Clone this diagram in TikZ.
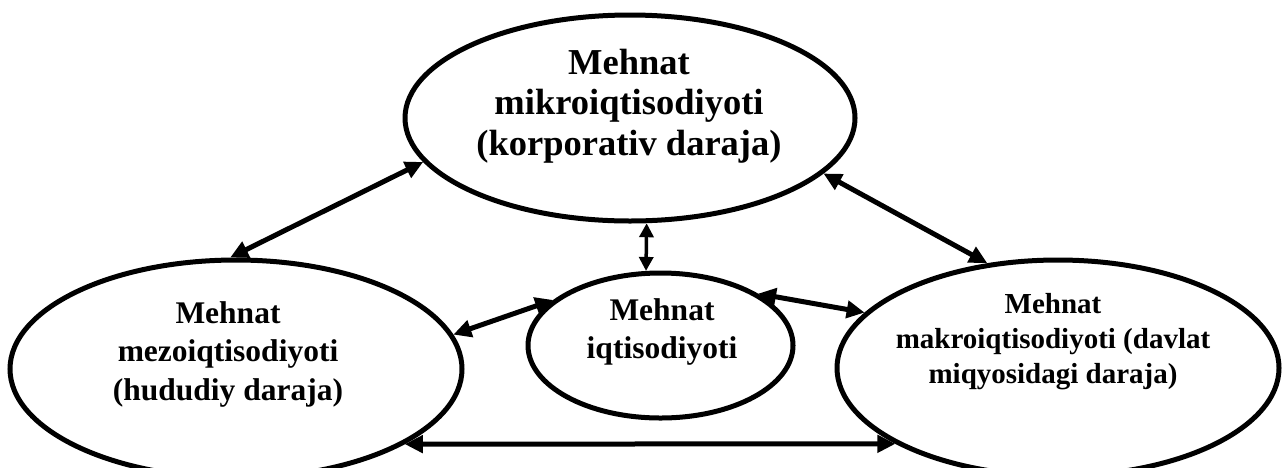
\documentclass[tikz,border=0pt]{standalone}
\usepackage{fontspec}
\setmainfont{Liberation Serif}
\usetikzlibrary{arrows.meta,shapes.geometric}

\tikzset{
  oval/.style={draw, ellipse, line width=5pt, inner sep=0pt},
  lbl/.style={align=center, font=\bfseries\fontsize{31.5}{38.5}\selectfont},
  link/.style={line width=5pt,
    {Triangle[length=18pt,width=17pt]}-{Triangle[length=18pt,width=17pt]}},
  thinlink/.style={line width=3.5pt,
    {Triangle[length=14pt,width=14pt]}-{Triangle[length=14pt,width=14pt]}},
}

\begin{document}
\begin{tikzpicture}[x=1pt, y=-1pt]
  \clip (0, 0) rectangle (1282, 467);
  \node[oval, minimum width=450pt, minimum height=206pt] (mikro) at (630, 118) {};
  \node[oval, minimum width=452pt, minimum height=218pt] (mezo) at (236, 369) {};
  \node[oval, minimum width=265pt, minimum height=145pt] (iqt) at (660.5, 345.5) {};
  \node[oval, minimum width=442pt, minimum height=216pt] (makro) at (1058, 368) {};

  \node[lbl, font=\bfseries\fontsize{36.5}{40.5}\selectfont] (mikroT) at (629, 106)
    {Mehnat\\ mikroiqtisodiyoti\\ (korporativ daraja)};
  \node[lbl] (mezoT) at (228, 354) {Mehnat\\ mezoiqtisodiyoti\\ (hududiy daraja)};
  \node[lbl] (iqtT) at (662, 332) {Mehnat\\ iqtisodiyoti};
  \node[lbl, font=\bfseries\fontsize{29}{35}\selectfont] (makroT) at (1053, 342)
    {Mehnat\\ makroiqtisodiyoti (davlat\\ miqyosidagi daraja)};

  \draw[link] (mikro.192) -- (mezo.93);
  \draw[link] (mikro.344) -- (makro.124);
  \draw[thinlink] (mikro.279) -- (iqt.101);
  \draw[link] (iqt.157) -- (mezo.9);
  \draw[link] (iqt.28) -- (makro.164);
  \draw[link] (mezo.336) -- (makro.205);
\end{tikzpicture}
\end{document}
